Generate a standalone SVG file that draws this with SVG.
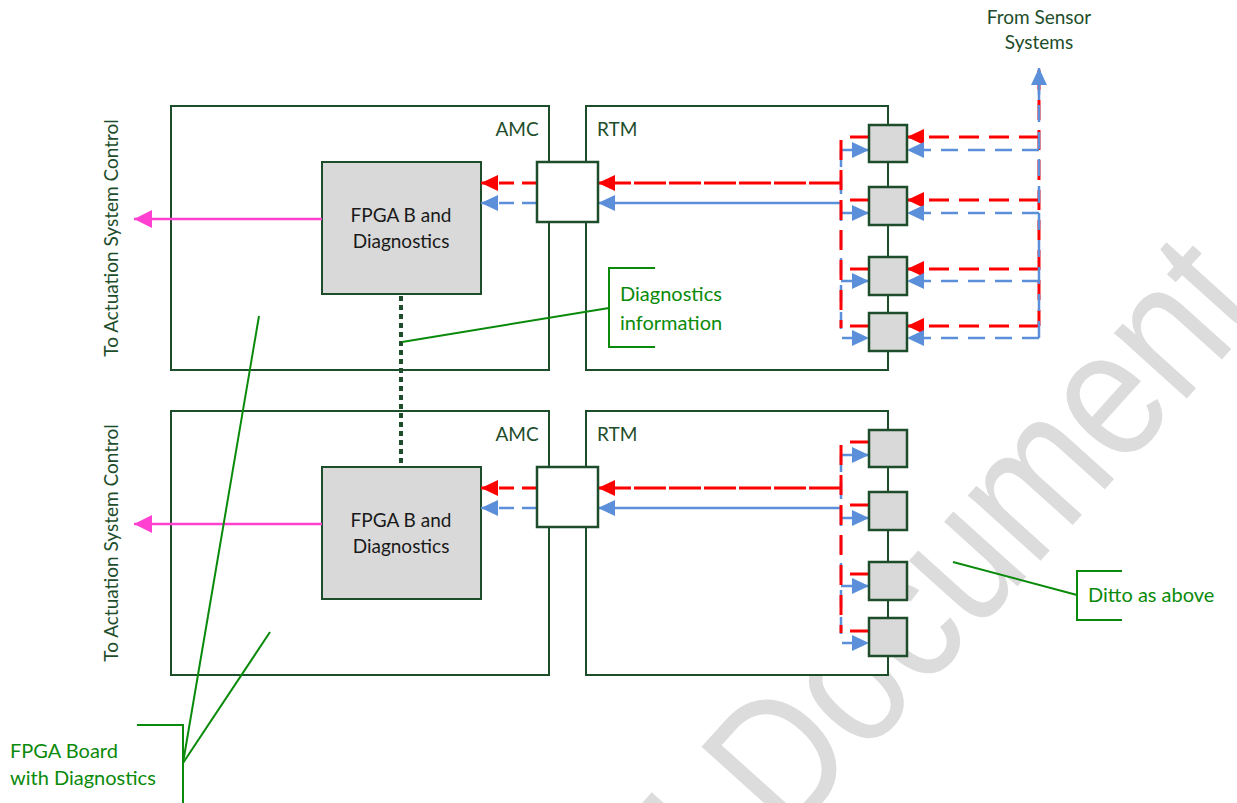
<svg xmlns="http://www.w3.org/2000/svg" width="1237" height="803" viewBox="0 0 1237 803">
<style>
  .frame{fill:#ffffff;stroke:#1E4D2B;stroke-width:2}
  .fpga{fill:#D9D9D9;stroke:#1E4D2B;stroke-width:2}
  .conn{fill:#ffffff;stroke:#1E4D2B;stroke-width:2.5}
  .port{fill:#D9D9D9;stroke:#1E4D2B;stroke-width:2.5}
  .lbl{font-family:Lato,"Liberation Sans",sans-serif;font-size:19px;fill:#1E4D2B}
  .blk{font-family:Lato,"Liberation Sans",sans-serif;font-size:19px;fill:#1a1a1a}
  .ann{font-family:Lato,"Liberation Sans",sans-serif;font-size:20px;fill:#0A8A0A}
  .lead{fill:none;stroke:#0A8A0A;stroke-width:2}
  .red{fill:none;stroke:#FF0000;stroke-width:3}
  .blue{fill:none;stroke:#5B8FD9;stroke-width:2.5}
  .rd{stroke-dasharray:20 10}
  .bd{stroke-dasharray:17 10}
  .pink{fill:none;stroke:#FF40D0;stroke-width:2.5}
  .wm{font-family:"Liberation Sans",sans-serif;font-size:185px;fill:#DCDCDC}
</style>
<defs>
  <marker id="ar" markerUnits="userSpaceOnUse" markerWidth="18" markerHeight="16" refX="17" refY="8" orient="auto"><path d="M0,0 L17,8 L0,16 z" fill="#FF0000"/></marker>
  <marker id="ab" markerUnits="userSpaceOnUse" markerWidth="18" markerHeight="16" refX="17" refY="8" orient="auto"><path d="M0,0 L17,8 L0,16 z" fill="#5B8FD9"/></marker>
  <marker id="ap" markerUnits="userSpaceOnUse" markerWidth="19" markerHeight="18" refX="18" refY="9" orient="auto"><path d="M0,0 L18,9 L0,18 z" fill="#FF40D0"/></marker>
</defs>
<rect width="1237" height="803" fill="#ffffff"/>
<g id="watermark">
  <text class="wm" transform="translate(735,900) rotate(-48) scale(0.85,1)">l Document</text>
</g>

<g id="amc-top"><rect class="frame" x="171" y="106" width="378" height="264"/><text class="lbl" x="517" y="136" text-anchor="middle">AMC</text></g>
<g id="rtm-top"><rect class="frame" x="586" y="106" width="302" height="264"/><text class="lbl" x="597" y="136">RTM</text></g>
<g id="amc-bot"><rect class="frame" x="171" y="411" width="378" height="264"/><text class="lbl" x="517" y="441" text-anchor="middle">AMC</text></g>
<g id="rtm-bot"><rect class="frame" x="586" y="411" width="302" height="264"/><text class="lbl" x="597" y="441">RTM</text></g>

<g id="fpga-top"><rect class="fpga" x="322" y="162" width="159" height="132"/><text class="blk" x="401" y="222" text-anchor="middle">FPGA B and</text><text class="blk" x="401" y="248" text-anchor="middle">Diagnostics</text></g>
<g id="fpga-bot"><rect class="fpga" x="322" y="467" width="159" height="132"/><text class="blk" x="401" y="527" text-anchor="middle">FPGA B and</text><text class="blk" x="401" y="553" text-anchor="middle">Diagnostics</text></g>

<g id="connectors">
  <!-- pink outputs -->
  <line class="pink" x1="322" y1="219" x2="134" y2="219" marker-end="url(#ap)"/>
  <line class="pink" x1="322" y1="524" x2="134" y2="524" marker-end="url(#ap)"/>
  <!-- dotted link -->
  <line x1="401" y1="296" x2="401" y2="467" stroke="#1E4D2B" stroke-width="4" stroke-dasharray="5 4"/>
  <!-- top: conn to fpga -->
  <line class="red" x1="537" y1="183" x2="481" y2="183" stroke-dasharray="15 8" marker-end="url(#ar)"/>
  <line class="blue" x1="537" y1="203" x2="481" y2="203" stroke-dasharray="15 8" marker-end="url(#ab)"/>
  <line class="red" x1="841" y1="183" x2="598" y2="183" stroke-dasharray="32 3" marker-end="url(#ar)"/>
  <line class="blue" x1="841" y1="203" x2="598" y2="203" marker-end="url(#ab)"/>
  <!-- bottom: conn to fpga -->
  <line class="red" x1="537" y1="488" x2="481" y2="488" stroke-dasharray="15 8" marker-end="url(#ar)"/>
  <line class="blue" x1="537" y1="508" x2="481" y2="508" stroke-dasharray="15 8" marker-end="url(#ab)"/>
  <line class="red" x1="841" y1="488" x2="598" y2="488" stroke-dasharray="32 3" marker-end="url(#ar)"/>
  <line class="blue" x1="841" y1="508" x2="598" y2="508" marker-end="url(#ab)"/>
  <!-- top left bus -->
  <path class="blue bd" d="M841,150 V338 H869" marker-end="url(#ab)"/>
  <line class="blue" x1="841" y1="150" x2="869" y2="150" marker-end="url(#ab)"/>
  <line class="blue" x1="841" y1="213" x2="869" y2="213" marker-end="url(#ab)"/>
  <line class="blue" x1="841" y1="281" x2="869" y2="281" marker-end="url(#ab)"/>
  <line class="red rd" x1="841" y1="140" x2="841" y2="328"/>
  <line class="red" x1="850" y1="137" x2="869" y2="137"/>
  <line class="red" x1="850" y1="200" x2="869" y2="200"/>
  <line class="red" x1="850" y1="269" x2="869" y2="269"/>
  <line class="red" x1="850" y1="326" x2="869" y2="326"/>
  <!-- bottom left bus -->
  <path class="blue bd" d="M841,455 V643 H869" marker-end="url(#ab)"/>
  <line class="blue" x1="841" y1="455" x2="869" y2="455" marker-end="url(#ab)"/>
  <line class="blue" x1="841" y1="518" x2="869" y2="518" marker-end="url(#ab)"/>
  <line class="blue" x1="841" y1="586" x2="869" y2="586" marker-end="url(#ab)"/>
  <line class="red rd" x1="841" y1="445" x2="841" y2="633"/>
  <line class="red" x1="850" y1="442" x2="869" y2="442"/>
  <line class="red" x1="850" y1="505" x2="869" y2="505"/>
  <line class="red" x1="850" y1="574" x2="869" y2="574"/>
  <line class="red" x1="850" y1="631" x2="869" y2="631"/>
  <!-- sensor inputs -->
  <line class="red rd" x1="1039" y1="70" x2="1039" y2="326"/>
  <line class="red rd" x1="1039" y1="137" x2="907" y2="137" marker-end="url(#ar)"/>
  <line class="red rd" x1="1039" y1="200" x2="907" y2="200" marker-end="url(#ar)"/>
  <line class="red rd" x1="1039" y1="269" x2="907" y2="269" marker-end="url(#ar)"/>
  <line class="red rd" x1="1039" y1="326" x2="907" y2="326" marker-end="url(#ar)"/>
  <line class="blue bd" x1="1039" y1="150" x2="907" y2="150" marker-end="url(#ab)"/>
  <line class="blue bd" x1="1039" y1="213" x2="907" y2="213" marker-end="url(#ab)"/>
  <line class="blue bd" x1="1039" y1="281" x2="907" y2="281" marker-end="url(#ab)"/>
  <line class="blue bd" x1="1039" y1="338" x2="907" y2="338" marker-end="url(#ab)"/>
  <path class="blue bd" d="M1039,338 V90"/>
  <line class="blue" x1="1039" y1="100" x2="1039" y2="68" marker-end="url(#ab)"/>
  <!-- annotation leaders -->
  <line class="lead" x1="609" y1="308" x2="402" y2="342"/>
  <line class="lead" x1="183" y1="763" x2="259" y2="316"/>
  <line class="lead" x1="183" y1="763" x2="270" y2="632"/>
  <line class="lead" x1="1077" y1="595" x2="953" y2="562"/>
</g>

<g id="conn-top"><rect class="conn" x="537" y="162" width="61" height="60"/></g>
<g id="conn-bot"><rect class="conn" x="537" y="467" width="61" height="60"/></g>

<g id="ports-top">
  <rect class="port" x="869" y="125" width="38" height="37"/>
  <rect class="port" x="869" y="187" width="38" height="38"/>
  <rect class="port" x="869" y="257" width="38" height="38"/>
  <rect class="port" x="869" y="313" width="38" height="38"/>
</g>
<g id="ports-bot">
  <rect class="port" x="869" y="430" width="38" height="37"/>
  <rect class="port" x="869" y="492" width="38" height="38"/>
  <rect class="port" x="869" y="562" width="38" height="38"/>
  <rect class="port" x="869" y="618" width="38" height="38"/>
</g>

<g id="label-actuation-top"><text class="lbl" transform="translate(118,238) rotate(-90)" text-anchor="middle">To Actuation System Control</text></g>
<g id="label-actuation-bot"><text class="lbl" transform="translate(118,543) rotate(-90)" text-anchor="middle">To Actuation System Control</text></g>
<g id="label-sensor"><text class="lbl" x="1039" y="24" text-anchor="middle" font-size="18">From Sensor</text><text class="lbl" x="1039" y="49" text-anchor="middle" font-size="18">Systems</text></g>

<g id="note-diag">
  <path class="lead" d="M655,268 H609 V347 H655"/>
  <text class="ann" x="620" y="301">Diagnostics</text>
  <text class="ann" x="620" y="330">information</text>
</g>
<g id="note-board">
  <path class="lead" d="M137,725 H183 V803"/>
  <text class="ann" x="10" y="758">FPGA Board</text>
  <text class="ann" x="10" y="785">with Diagnostics</text>
</g>
<g id="note-ditto">
  <path class="lead" d="M1122,571 H1077 V620 H1122"/>
  <text class="ann" x="1088" y="602">Ditto as above</text>
</g>
</svg>
